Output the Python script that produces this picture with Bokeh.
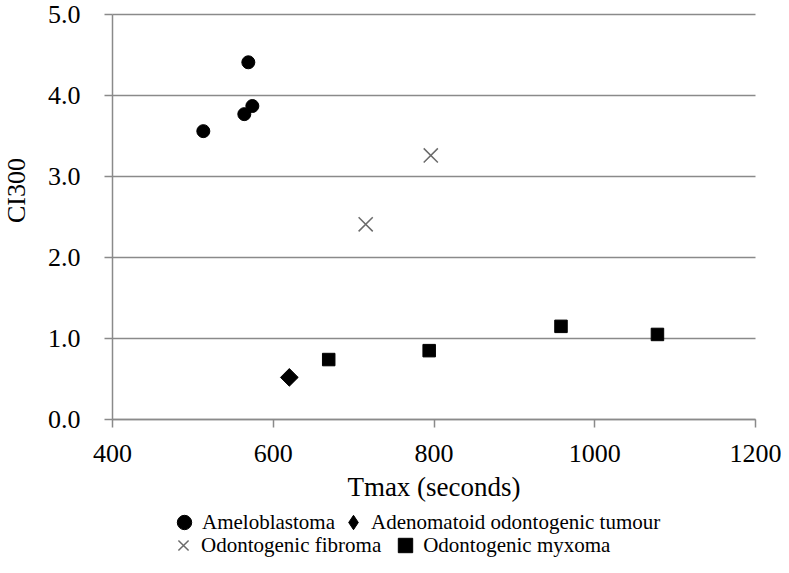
import numpy as np
from bokeh.plotting import figure
from bokeh.models import (Legend, LegendItem, Label, FixedTicker, NumeralTickFormatter, Range1d)
from bokeh.embed import file_html
from bokeh.resources import INLINE

# ---- data ----
amelo_x = [513, 564, 569, 574]
amelo_y = [3.56, 3.77, 4.41, 3.87]
aot_x = [620]
aot_y = [0.52]
fib_x = [715, 796]
fib_y = [2.41, 3.26]
myx_x = [669, 794, 958, 1078]
myx_y = [0.74, 0.85, 1.15, 1.05]

x_ticks = [400, 600, 800, 1000, 1200]
y_ticks = [0, 1, 2, 3, 4, 5]

SERIF = "Liberation Serif"
GRAY = "#8a8a8a"

# The frame fills the whole figure; axes are pinned at x=400 / y=0 so the
# tick labels, axis titles and legend rows can live inside it.
p = figure(width=781, height=557, output_backend="svg", toolbar_location=None,
           x_range=Range1d(260.65, 1232.35), y_range=Range1d(-1.7037, 5.1728),
           min_border_left=0, min_border_right=0, min_border_top=0, min_border_bottom=0)
p.outline_line_color = None
p.background_fill_color = "white"
p.border_fill_color = "white"

# horizontal grid lines, limited to the x extent of the axis
gl = p.ygrid[0]
gl.ticker = FixedTicker(ticks=y_ticks)
if "cross_bounds" in gl.properties():
    gl.grid_line_color = GRAY
    gl.grid_line_width = 1.5
    gl.cross_bounds = (x_ticks[0], x_ticks[-1])
else:
    gl.grid_line_color = None
    p.segment(x0=[x_ticks[0]] * len(y_ticks), x1=[x_ticks[-1]] * len(y_ticks),
              y0=y_ticks, y1=y_ticks, line_color=GRAY, line_width=1.5, level="underlay")
p.xgrid.grid_line_color = None

r1 = p.scatter(amelo_x, amelo_y, marker="circle", size=13, fill_color="black", line_color="black")
r2 = p.scatter(aot_x, aot_y, marker="square", angle=np.pi / 4, size=12.5, fill_color="black", line_color="black")
r3 = p.scatter(fib_x, fib_y, marker="x", size=20, line_color="#6b6b6b", line_width=1.5)
r4 = p.scatter(myx_x, myx_y, marker="square", size=12.5, fill_color="black", line_color="black")
# legend symbol for the diamond series (same point, drawn as a diamond marker, hidden in the plot)
r2_leg = p.scatter(aot_x, aot_y, marker="diamond", size=12.5, fill_color="black", line_color="black",
                   visible=False)

# axes
for ax in (p.xaxis[0], p.yaxis[0]):
    ax.axis_line_color = GRAY
    ax.axis_line_width = 1.5
    ax.major_tick_line_color = GRAY
    ax.major_tick_line_width = 1.5
    ax.major_tick_out = 8
    ax.major_tick_in = 0
    ax.minor_tick_line_color = None
    ax.major_label_text_font = SERIF
    ax.major_label_text_font_size = "26px"
    ax.major_label_text_color = "black"

p.xaxis.ticker = FixedTicker(ticks=x_ticks)
p.xaxis.fixed_location = 0
p.xaxis.bounds = (400, 1200)
p.xaxis.major_label_standoff = 18
p.xaxis.axis_label = "Tmax (seconds)"
p.xaxis.axis_label_text_font = SERIF
p.xaxis.axis_label_text_font_size = "27px"
p.xaxis.axis_label_text_font_style = "normal"
p.xaxis.axis_label_text_color = "black"
p.xaxis.axis_label_standoff = 6

p.yaxis.ticker = FixedTicker(ticks=y_ticks)
p.yaxis.fixed_location = 400
p.yaxis.bounds = (0, 5)
p.yaxis.formatter = NumeralTickFormatter(format="0.0")
p.yaxis.major_label_standoff = 24

# y-axis title
p.add_layout(Label(x=16, y=367, x_units="screen", y_units="screen", text="CI300",
                   angle=np.pi / 2, text_align="center", text_baseline="middle",
                   text_font=SERIF, text_font_size="26px", text_color="black"))

# legends (two rows)
common = dict(orientation="horizontal", glyph_width=36, glyph_height=40, padding=0, margin=0,
              label_standoff=0, background_fill_alpha=0, border_line_alpha=0,
              label_text_font=SERIF, label_text_font_size="21px", label_text_color="black")
leg1 = Legend(items=[LegendItem(label="Ameloblastoma", renderers=[r1]),
                     LegendItem(label="Adenomatoid odontogenic tumour", renderers=[r2_leg])],
              location=(166, 15), spacing=0, **common)
leg2 = Legend(items=[LegendItem(label="Odontogenic fibroma", renderers=[r3]),
                     LegendItem(label="Odontogenic myxoma", renderers=[r4])],
              location=(165, -8), spacing=6, **common)
p.add_layout(leg1, "center")
p.add_layout(leg2, "center")

open("out.html", "w").write(file_html(p, INLINE))
